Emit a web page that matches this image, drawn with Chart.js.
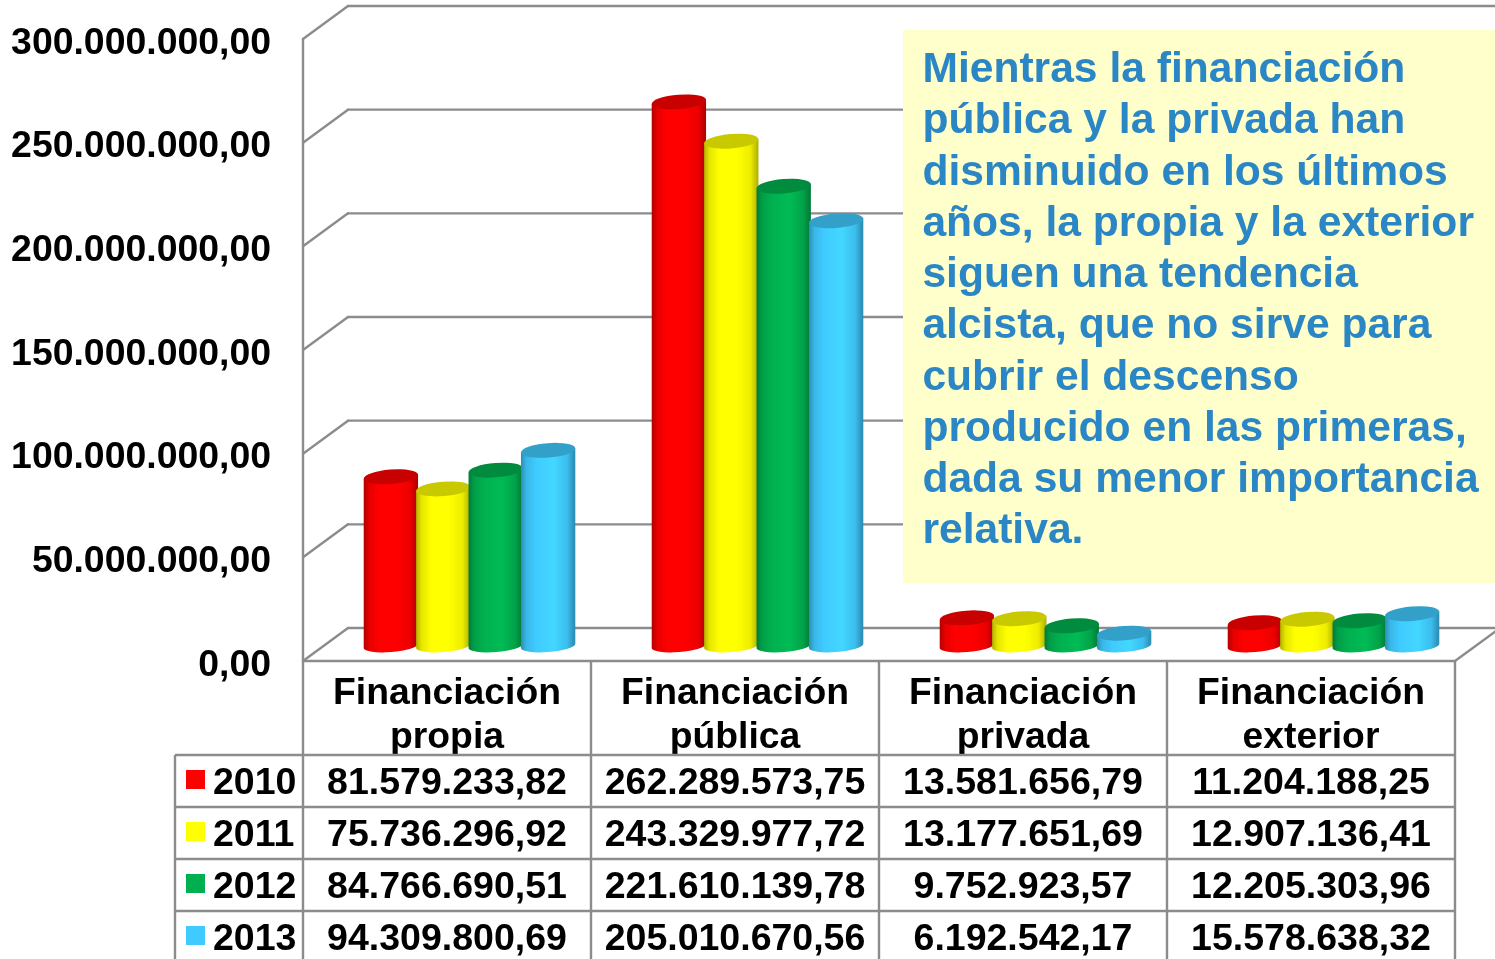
<!DOCTYPE html>
<html lang="es">
<head>
<meta charset="utf-8">
<title>Financiación</title>
<style>html,body{margin:0;padding:0;background:#fff;overflow:hidden}canvas{display:block}</style>
<script src="https://cdn.jsdelivr.net/npm/chart.js@4"></script>
</head>
<body>
<canvas id="c" width="1495" height="959"></canvas>
<script>
const categories = [["Financiación","propia"],["Financiación","pública"],["Financiación","privada"],["Financiación","exterior"]];
const years = ["2010","2011","2012","2013"];
const values2010 = [81579233.82, 262289573.75, 13581656.79, 11204188.25];
const values2011 = [75736296.92, 243329977.72, 13177651.69, 12907136.41];
const values2012 = [84766690.51, 221610139.78, 9752923.57, 12205303.96];
const values2013 = [94309800.69, 205010670.56, 6192542.17, 15578638.32];
const seriesColors = ["#FF0000","#FFFF00","#00B050","#3FCBFF"];
const noteLines = ["Mientras la financiación","pública y la privada han","disminuido en los últimos","años, la propia y la exterior","siguen una tendencia","alcista, que no sirve para","cubrir el descenso","producido en las primeras,","dada su menor importancia","relativa."];

const FONT = 'bold 37.5px "Liberation Sans", Arial, sans-serif';
const NOTE_FONT = 'bold 42.6px "Liberation Sans", Arial, sans-serif';
const GREY = '#8C8C8C';
const DX = 45, DY = 33, BAR_SHIFT = 22.5, RY_TOP = 7.2, RY_BOTTOM = 6, TILT = -4.6 * Math.PI / 180;
const allValues = [values2010, values2011, values2012, values2013];

function fmt(v){
  const [a,b] = v.toFixed(2).split('.');
  return a.replace(/\B(?=(\d{3})+(?!\d))/g,'.') + ',' + b;
}
function shade(hex,f){
  const n = parseInt(hex.slice(1),16);
  const c = [n>>16&255,n>>8&255,n&255].map(x=>Math.min(255,Math.round(x*f)));
  return `rgb(${c[0]},${c[1]},${c[2]})`;
}
function line(ctx,x1,y1,x2,y2){ctx.beginPath();ctx.moveTo(x1,y1);ctx.lineTo(x2,y2);ctx.stroke();}

const stage = {
  id:'stage',
  beforeDatasetsDraw(chart){
    const {ctx,chartArea:a,scales:{y}} = chart;
    ctx.save();
    ctx.strokeStyle = GREY; ctx.lineWidth = 2.4; ctx.lineCap = 'round';
    y.ticks.forEach(t=>{
      const p = y.getPixelForValue(t.value);
      line(ctx,a.left,p,a.left+DX,p-DY);
      line(ctx,a.left+DX,p-DY,a.right+DX,p-DY);
    });
    const b = a.bottom;
    line(ctx,a.left,a.top,a.left,b);
    line(ctx,a.left,b,a.right,b);
    line(ctx,a.right,b,a.right+DX,b-DY);
    ctx.restore();
  },
  beforeDatasetDraw(){ return false; },
  afterDatasetsDraw(chart){
    const ctx = chart.ctx;
    chart.data.datasets.forEach((ds,i)=>{
      const base = ds.backgroundColor;
      chart.getDatasetMeta(i).data.forEach(el=>{
        const p = el.getProps(['x','y','base','width'],true);
        const cx = p.x + BAR_SHIFT, rx = p.width/2;
        const ox = rx*Math.cos(TILT), oy = rx*Math.sin(TILT);
        ctx.save();
        const g = ctx.createLinearGradient(cx-ox,0,cx+ox,0);
        g.addColorStop(0,shade(base,.7));
        g.addColorStop(.1,shade(base,.9));
        g.addColorStop(.28,shade(base,1));
        g.addColorStop(.6,shade(base,1.06));
        g.addColorStop(.85,shade(base,.93));
        g.addColorStop(1,shade(base,.68));
        ctx.fillStyle = g;
        ctx.beginPath();
        ctx.moveTo(cx-ox,p.y-oy);
        ctx.lineTo(cx-ox,p.base-oy);
        ctx.ellipse(cx,p.base,rx,RY_BOTTOM,TILT,Math.PI,0,true);
        ctx.lineTo(cx+ox,p.y+oy);
        ctx.closePath();
        ctx.fill();
        ctx.fillStyle = shade(base,.79);
        ctx.beginPath();
        ctx.ellipse(cx,p.y,rx,RY_TOP,TILT,0,Math.PI*2);
        ctx.fill();
        ctx.restore();
      });
    });
  },
  afterDraw(chart){
    const {ctx,chartArea:a,scales:{x}} = chart;
    ctx.save();
    // note box
    ctx.fillStyle = '#FFFFCC';
    ctx.fillRect(903,30,592,553);
    ctx.fillStyle = '#2A86C4';
    ctx.font = NOTE_FONT; ctx.textAlign = 'left'; ctx.textBaseline = 'alphabetic';
    noteLines.forEach((t,i)=>ctx.fillText(t,922.4,82.2+51.25*i));
    // data table
    ctx.strokeStyle = GREY; ctx.lineWidth = 2.4;
    const rows = [755,807,859,911];
    rows.forEach(r=>line(ctx,175,r,a.right,r));
    line(ctx,175,755,175,959);
    categories.forEach((_,i)=>{
      const edge = x.getPixelForValue(i)-(x.getPixelForValue(1)-x.getPixelForValue(0))/2;
      line(ctx,edge,a.bottom,edge,959);
    });
    line(ctx,a.right,a.bottom,a.right,959);
    ctx.font = FONT; ctx.fillStyle = '#000';
    years.forEach((yr,r)=>{
      const base = rows[r]+39;
      ctx.fillStyle = seriesColors[r];
      ctx.fillRect(186,rows[r]+15,19,19);
      ctx.fillStyle = '#000';
      ctx.textAlign = 'left';
      ctx.fillText(yr,213,base);
      ctx.textAlign = 'center';
      categories.forEach((_,c)=>ctx.fillText(fmt(allValues[r][c]),x.getPixelForValue(c),base));
    });
    ctx.restore();
  }
};

new Chart(document.getElementById('c'),{
  type:'bar',
  data:{
    labels:categories,
    datasets:years.map((yr,i)=>({label:yr,data:allValues[i],backgroundColor:seriesColors[i],yAxisID:'yBars'}))
  },
  options:{
    responsive:false,animation:false,devicePixelRatio:1,
    layout:{padding:{top:39,right:40,left:0,bottom:0}},
    datasets:{bar:{barPercentage:1.04,categoryPercentage:0.728}},
    plugins:{legend:{display:false},title:{display:false},tooltip:{enabled:false}},
    scales:{
      x:{
        grid:{display:false},border:{display:false},
        afterFit(s){s.height=298;s.paddingLeft=0;s.paddingRight=0;},
        ticks:{color:'#000',padding:3,autoSkip:false,maxRotation:0,minRotation:0,
          font:{family:'"Liberation Sans", Arial, sans-serif',size:37.3,weight:'bold',lineHeight:1.18}}
      },
      y:{
        min:0,max:300000000,
        grid:{display:false,drawTicks:false},border:{display:false},
        afterFit(s){s.width=303;s.paddingTop=0;s.paddingBottom=0;},
        ticks:{stepSize:50000000,color:'#000',padding:32,labelOffset:4.5,callback:v=>fmt(v),
          font:{family:'"Liberation Sans", Arial, sans-serif',size:37.4,weight:'bold'}}
      },
      yBars:{display:false,min:-7220000,max:292600000}
    }
  },
  plugins:[stage]
});
</script>
</body>
</html>
